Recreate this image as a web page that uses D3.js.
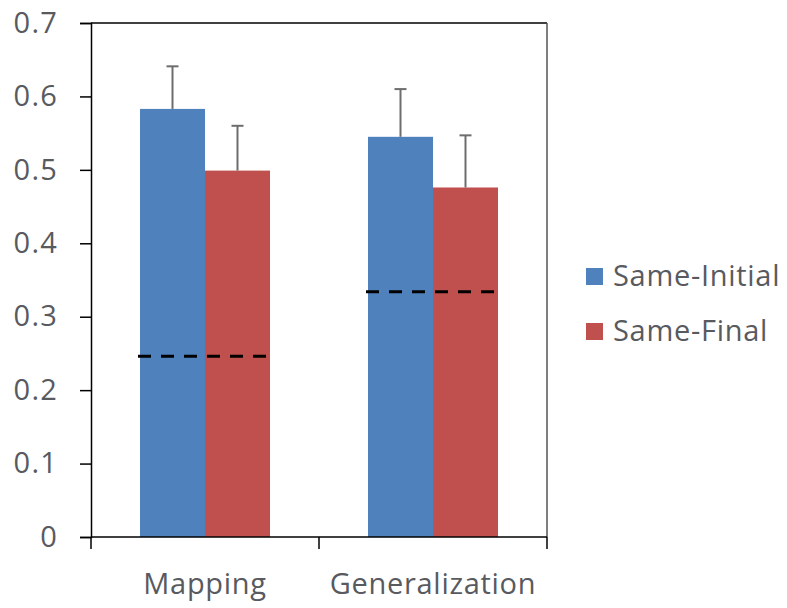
<!DOCTYPE html>
<html><head><meta charset="utf-8">
<script src="https://cdn.jsdelivr.net/npm/d3@7"></script>
<style>body{margin:0;background:#fff}svg{display:block}</style>
</head><body>
<script>
const categories = ["Mapping", "Generalization"];
const seriesNames = ["Same-Initial", "Same-Final"];
const sameInitial = [0.583, 0.545];
const sameFinal = [0.499, 0.476];
const errInitial = [0.058, 0.065];
const errFinal = [0.061, 0.071];
const chanceLevel = [0.246, 0.334];
const yTicks = [0, 0.1, 0.2, 0.3, 0.4, 0.5, 0.6, 0.7];
const colors = ["#4F81BD", "#C0504D"];

(function () {
const W = 787, H = 608;
const mL = 91, mR = 547, mT = 23, mB = 537;
const svg = d3.select("body").append("svg").attr("width", W).attr("height", H);

const x = d3.scaleBand().domain(categories).range([mL, mR]).paddingInner(0).paddingOuter(0);
const inner = d3.scaleBand().domain(seriesNames).range([0, 130]);
const y = d3.scaleLinear().domain([0, 0.7]).range([mB, mT]);
const font = "'Open Sans', sans-serif";
const textColor = "#585a60";
const fs = 29, ls = 0.7;

const series = [sameInitial, sameFinal];
const errs = [errInitial, errFinal];
const groupOffset = (x.bandwidth() - 130) / 2;

seriesNames.forEach((s, si) => {
  svg.append("g").selectAll("rect").data(categories).join("rect")
    .attr("x", c => x(c) + groupOffset + inner(s))
    .attr("width", inner.bandwidth())
    .attr("y", (c, i) => y(series[si][i]))
    .attr("height", (c, i) => y(0) - y(series[si][i]))
    .attr("fill", colors[si]);
});
seriesNames.forEach((s, si) => {
  const g = svg.append("g").attr("stroke", "#6d6d6d").attr("stroke-width", 2);
  categories.forEach((c, i) => {
    const cx = x(c) + groupOffset + inner(s) + inner.bandwidth() / 2;
    const v = series[si][i], e = errs[si][i];
    g.append("line").attr("x1", cx).attr("x2", cx).attr("y1", y(v)).attr("y2", y(v + e));
    g.append("line").attr("x1", cx - 6).attr("x2", cx + 6).attr("y1", y(v + e)).attr("y2", y(v + e));
  });
});
svg.append("g").selectAll("line").data(categories).join("line")
  .attr("x1", c => x(c) + groupOffset - 2)
  .attr("x2", c => x(c) + groupOffset + 130)
  .attr("y1", (c, i) => y(chanceLevel[i]))
  .attr("y2", (c, i) => y(chanceLevel[i]))
  .attr("stroke", "#000").attr("stroke-width", 3).attr("stroke-dasharray", "13,10");

svg.append("line").attr("x1", mL).attr("x2", mR).attr("y1", mT).attr("y2", mT).attr("stroke", "#000").attr("stroke-width", 1.5);
svg.append("line").attr("x1", mR).attr("x2", mR).attr("y1", mT).attr("y2", mB).attr("stroke", "#555").attr("stroke-width", 1.5);

const yAxis = svg.append("g").attr("transform", `translate(${mL},0)`)
  .call(d3.axisLeft(y).tickValues(yTicks).tickSize(11).tickPadding(22).tickFormat(d => d === 0 ? "0" : d3.format(".1f")(d)));
yAxis.select(".domain").attr("stroke", "#000").attr("stroke-width", 1.5);
yAxis.selectAll(".tick line").attr("stroke", "#000").attr("stroke-width", 1.5);
yAxis.selectAll("text").attr("font-family", font).attr("font-size", fs).attr("letter-spacing", 1.2).attr("fill", textColor);

const xAxis = svg.append("g").attr("transform", `translate(0,${mB})`);
xAxis.append("line").attr("x1", mL).attr("x2", mR).attr("stroke", "#000").attr("stroke-width", 1.5);
const bounds = [mL, ...categories.map(c => x(c) + x.bandwidth())];
xAxis.selectAll("line.t").data(bounds).join("line").attr("class", "t")
  .attr("x1", d => d).attr("x2", d => d).attr("y1", 0).attr("y2", 12)
  .attr("stroke", "#000").attr("stroke-width", 1.5);
xAxis.selectAll("text").data(categories).join("text")
  .attr("x", c => x(c) + x.bandwidth() / 2).attr("y", 57)
  .attr("text-anchor", "middle").attr("font-family", font).attr("font-size", fs).attr("letter-spacing", ls)
  .attr("fill", textColor).text(c => c);

const lg = svg.append("g");
seriesNames.forEach((s, i) => {
  const yy = 268 + i * 55;
  lg.append("rect").attr("x", 586).attr("y", yy).attr("width", 17).attr("height", 17).attr("fill", colors[i]);
  lg.append("text").attr("x", 613).attr("y", yy + 18).attr("font-family", font).attr("font-size", fs).attr("letter-spacing", ls)
    .attr("fill", textColor).text(s);
});
})();
</script>
</body></html>
